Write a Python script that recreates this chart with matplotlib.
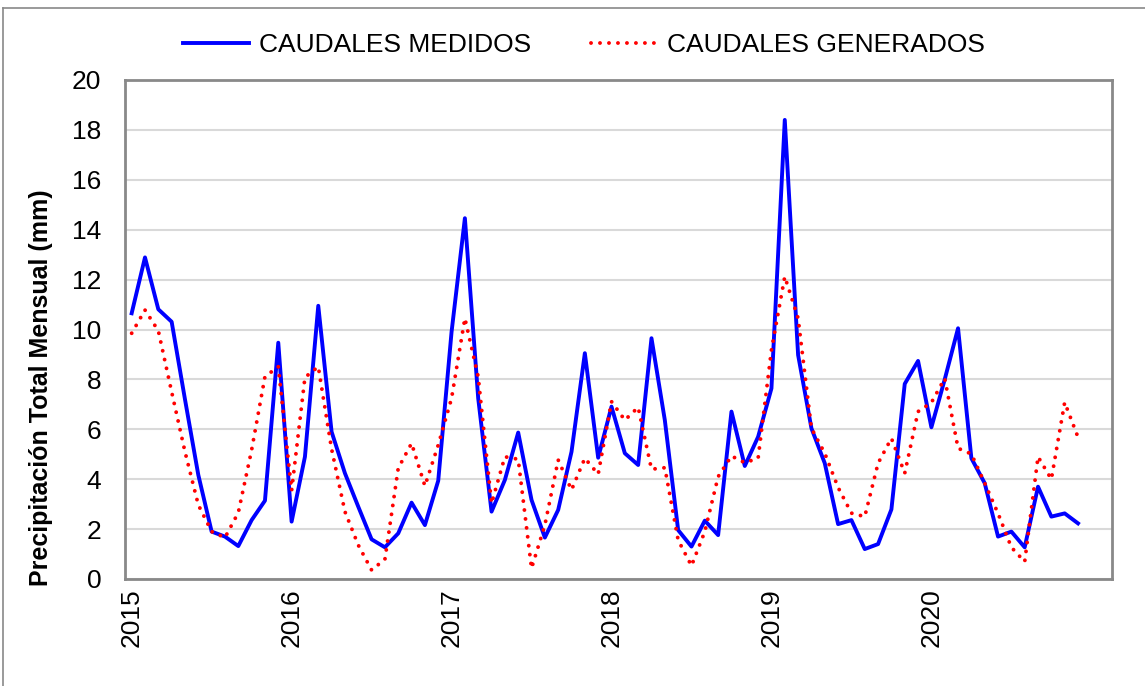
import matplotlib
matplotlib.use('Agg')
import matplotlib.pyplot as plt
from matplotlib.lines import Line2D

plt.rcParams['font.family'] = ['Liberation Sans', 'DejaVu Sans']

years = ['2015', '2016', '2017', '2018', '2019', '2020']

medidos = [10.65, 12.89, 10.81, 10.31, 7.2, 4.17, 1.90, 1.70, 1.32, 2.36, 3.14, 9.47,
           2.30, 4.90, 10.95, 5.90, 4.24, 2.90, 1.59, 1.27, 1.83, 3.06, 2.16, 3.94,
           9.9, 14.46, 7.24, 2.70, 3.97, 5.87, 3.17, 1.66, 2.77, 5.10, 9.05, 4.86,
           6.91, 5.04, 4.57, 9.65, 6.37, 1.96, 1.30, 2.34, 1.76, 6.71, 4.53, 5.70,
           7.64, 18.40, 8.98, 6.04, 4.64, 2.20, 2.36, 1.20, 1.40, 2.79, 7.82, 8.74,
           6.08, 8.0, 10.05, 4.84, 3.84, 1.70, 1.90, 1.27, 3.70, 2.50, 2.63, 2.23]

generados = [9.85, 10.78, 9.95, 7.5, 5.1, 2.97, 1.90, 1.66, 2.66, 5.17, 8.11, 8.51,
             3.54, 8.08, 8.51, 5.21, 2.7, 1.36, 0.36, 0.79, 4.44, 5.44, 3.73, 5.37,
             7.24, 10.45, 8.1, 3.03, 4.9, 4.8, 0.43, 2.16, 4.77, 3.57, 4.84, 4.20,
             7.11, 6.37, 6.88, 4.40, 4.46, 1.56, 0.53, 1.90, 4.10, 4.93, 4.66, 4.84,
             9.18, 12.12, 10.45, 6.04, 5.04, 3.67, 2.64, 2.50, 4.64, 5.64, 4.24, 6.71,
             7.07, 8.04, 5.24, 5.01, 3.84, 2.63, 1.27, 0.69, 4.90, 4.00, 7.08, 5.68]

meses = list(range(len(medidos)))

fig = plt.figure(figsize=(11.45, 6.86), dpi=100)
ax = fig.add_axes([125 / 1145, 1 - 579 / 686, (1112 - 125) / 1145, (579 - 80) / 686])

dotted = (0, (0.01, 2.3))
ax.plot(meses, medidos, color='#0000FF', lw=2.8, zorder=3)
ax.plot(meses, generados, color='#FF0000', lw=2.8, linestyle=dotted,
        dash_capstyle='round', zorder=4)

ax.set_xlim(-0.5, 73.55)
ax.set_ylim(0, 20)
ax.set_yticks(range(0, 21, 2))
ax.set_xticks(range(0, 72, 12))
ax.set_xticklabels(years, rotation=90)
ax.tick_params(axis='y', length=0, pad=17, labelsize=19)
ax.tick_params(axis='x', length=0, pad=7, labelsize=19)
ax.grid(axis='y', color='#D9D9D9', lw=1.5)
ax.set_axisbelow(True)
for s in ax.spines.values():
    s.set_color('#898989')
    s.set_linewidth(2)

fig.text(41 / 1145, 1 - 388 / 686, 'Precipitación Total Mensual (mm)', rotation=90,
         ha='center', va='center', fontsize=18, fontweight='bold')

handles = [Line2D([], [], color='#0000FF', lw=2.8),
           Line2D([], [], color='#FF0000', lw=2.8, linestyle=dotted, dash_capstyle='round')]
fig.legend(handles, ['CAUDALES MEDIDOS', 'CAUDALES GENERADOS'], loc='center',
           bbox_to_anchor=(0.51, 0.934), ncol=2, frameon=False, fontsize=19,
           handlelength=2.5, handletextpad=0.35, columnspacing=2.3)

# outer chart border (top and left visible)
fig.add_artist(Line2D([3 / 1145, 1], [1 - 8 / 686, 1 - 8 / 686], color='#898989', lw=1.2,
                      transform=fig.transFigure))
fig.add_artist(Line2D([3 / 1145, 3 / 1145], [0, 1 - 8 / 686], color='#898989', lw=1.2,
                      transform=fig.transFigure))

fig.savefig('out.png', dpi=100)
